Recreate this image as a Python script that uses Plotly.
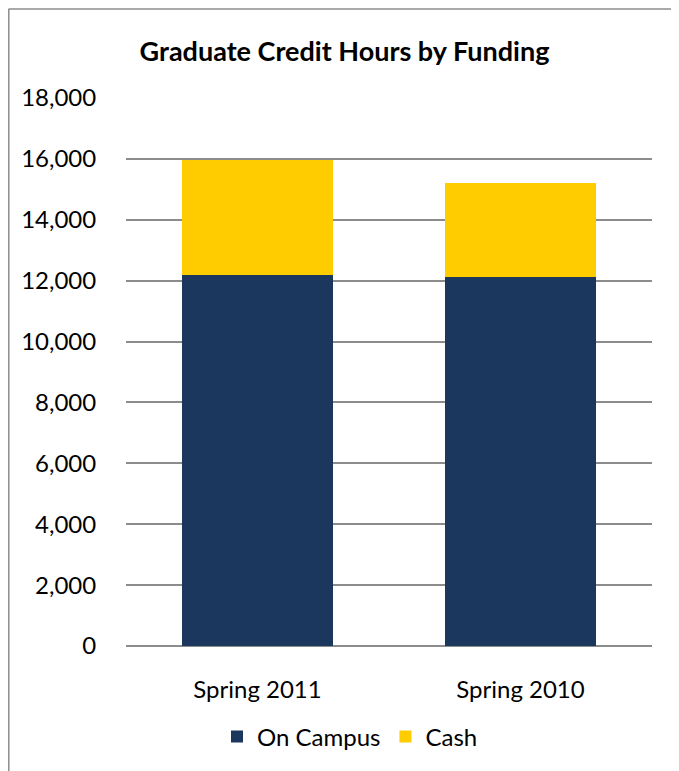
import plotly.graph_objects as go

categories = ["Spring 2011", "Spring 2010"]
on_campus = [12190, 12130]
cash = [3790, 3080]
y_ticks = [0, 2000, 4000, 6000, 8000, 10000, 12000, 14000, 16000, 18000]
y_tick_labels = ["0", "2,000", "4,000", "6,000", "8,000", "10,000", "12,000", "14,000", "16,000", "18,000"]

# page body has an 8px margin; figure sized to fill the rest of the window
OFF = 8
W, H = 679 - OFF, 771 - OFF
L, T = 126 - OFF, 98 - OFF
R = W - (652 - OFF)
B = H - (646 - OFF)
pw, ph = W - L - R, H - T - B

FONT = "Lato"

fig = go.Figure()
fig.add_trace(go.Bar(x=categories, y=on_campus, name="On Campus",
                     marker=dict(color="#1B375E", line=dict(width=0))))
fig.add_trace(go.Bar(x=categories, y=cash, name="Cash",
                     marker=dict(color="#FFCC00", line=dict(width=0))))

def px_x(px):
    return (px - OFF - L) / pw

def px_y(py):
    return (H - B - (py - OFF)) / ph

fig.update_layout(
    width=W, height=H,
    margin=dict(l=L, r=R, t=T, b=B, pad=0),
    barmode="stack",
    bargap=0.425,
    paper_bgcolor="white",
    plot_bgcolor="white",
    font=dict(family=FONT, size=24, color="#000000"),
    title=dict(text="<b>Graduate Credit Hours by Funding</b>",
               x=px_x(344.5), xref="paper", xanchor="center",
               y=1 - (52 - OFF) / H, yanchor="middle",
               font=dict(family=FONT, size=27, color="#000000")),
    showlegend=True,
    legend=dict(orientation="h", x=px_x(350), xanchor="center",
                y=px_y(737), yanchor="middle",
                font=dict(family=FONT, size=24, color="#000000"),
                traceorder="normal", itemwidth=30,
                bgcolor="rgba(0,0,0,0)"),
    xaxis=dict(showgrid=False, showline=False, zeroline=False,
               ticks="outside", ticklen=22, tickcolor="rgba(0,0,0,0)",
               tickfont=dict(family=FONT, size=24, color="#000000")),
    yaxis=dict(range=[0, 18000], tickvals=y_ticks, ticktext=y_tick_labels,
               showgrid=True, gridcolor="#8C8C8C", gridwidth=1.5,
               zeroline=True, zerolinecolor="#8C8C8C", zerolinewidth=1.5,
               showline=False,
               ticks="outside", ticklen=24, tickcolor="rgba(0,0,0,0)",
               tickfont=dict(family=FONT, size=24, color="#000000")),
    shapes=[
        dict(type="line", xref="paper", yref="paper",
             x0=px_x(8.5), x1=px_x(679), y0=px_y(9), y1=px_y(9),
             line=dict(color="#8C8C8C", width=1.5)),
        dict(type="line", xref="paper", yref="paper",
             x0=px_x(8.8), x1=px_x(8.8), y0=px_y(9), y1=px_y(771),
             line=dict(color="#8C8C8C", width=1.5)),
    ],
)

fig.write_html("out.html")
